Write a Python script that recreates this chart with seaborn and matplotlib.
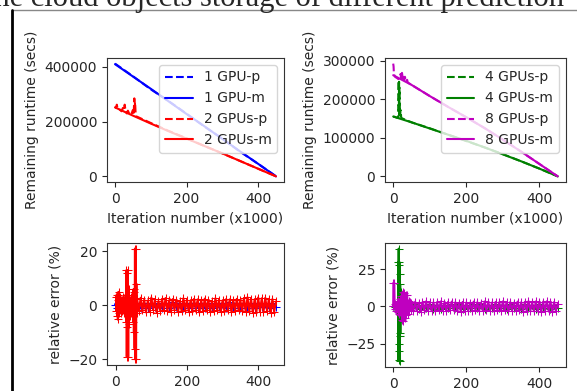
import numpy as np
import matplotlib
matplotlib.use('Agg')
import matplotlib.pyplot as plt
from matplotlib.lines import Line2D
import seaborn as sns

# ------------------------------------------------------------
# Remaining runtime (secs) vs iteration number (x1000)
# ------------------------------------------------------------
iters = [0, 50, 100, 150, 200, 250, 300, 350, 400, 450]

gpu1_m = [410000, 365000, 320000, 274000, 228000, 183000, 137000, 91000, 46000, 0]
gpu1_p = [412000, 366000, 318000, 275000, 229000, 182000, 138000, 90000, 46000, 500]

gpu2_m = [252000, 222000, 193000, 165000, 138000, 111000, 84000, 56000, 28000, 0]
gpu2_p_x = [0, 3, 5, 7, 10, 14, 18, 22, 25, 27, 30, 33, 36, 40, 45, 50, 52, 54,
            55, 56, 58, 60, 70, 100, 150, 200, 250, 300, 350, 400, 450]
gpu2_p = [255000, 250000, 262000, 248000, 245000, 243000, 238000, 250000, 241000,
          262000, 236000, 230000, 240000, 228000, 226000, 242000, 224000, 285000,
          250000, 272000, 220000, 219000, 213000, 195000, 166000, 139000, 111000,
          84000, 56000, 28000, 500]

gpu4_m = [155000, 140000, 124000, 108000, 92000, 75000, 57000, 39000, 20000, 0]
gpu4_p_x = [0, 5, 10, 14, 15, 15.5, 16, 16.5, 17, 17.5, 18, 19, 20, 22, 25, 30,
            50, 100, 150, 200, 250, 300, 350, 400, 450]
gpu4_p = [155000, 154000, 152000, 152000, 248000, 170000, 245000, 160000, 230000,
          175000, 168000, 158000, 172000, 152000, 150000, 148000, 140000, 124500,
          108000, 91500, 75000, 57500, 39000, 20000, 0]

gpu8_m = [262000, 237000, 208000, 180000, 153000, 125000, 95000, 64000, 32000, 0]
gpu8_p_x = [0, 1, 2, 3, 5, 8, 10, 14, 18, 20, 22, 24, 26, 28, 30, 32, 35, 38, 40,
            45, 50, 100, 150, 200, 250, 300, 350, 400, 450]
gpu8_p = [292000, 285000, 265000, 262000, 258000, 256000, 255000, 252000, 258000,
          265000, 252000, 268000, 255000, 262000, 250000, 258000, 246000, 250000,
          243000, 240000, 237000, 208000, 180000, 153000, 125000, 95000, 64000,
          32000, 0]

# ------------------------------------------------------------
# Relative error (%)
# ------------------------------------------------------------
band_x = list(np.arange(60, 455, 5))      # dense part, every 5k iterations
coarse_x = list(np.arange(40, 455, 10))   # coarser grid for hidden series

err1_early_x = [-2, 0, 3, 6, 10, 15, 20, 30]
err1_early = [0.2, 0.3, -0.8, 1.0, -0.9, 0.7, -1.1, 0.8]
err1_band = [1.0, -0.8, 0.9, -1.1, 0.7, -0.9, 1.0, -0.7, 0.8, -1.0,
             0.9, -0.8, 1.1, -0.7, 0.9, -1.0, 0.8, -0.9, 1.0, -0.8,
             0.9, -1.1, 0.8, -0.9, 1.0, -0.7, 0.9, -1.0, 1.1, -0.8,
             0.7, -1.0, 0.9, -0.8, 0.8, -1.1, 1.0, -0.7, 0.9, -0.9,
             0.8, -0.5]

err2_early_x = [1, 2, 3, 4, 5, 6, 7, 8, 9, 10, 12, 14, 16, 18, 20, 22, 24, 26,
                28, 29, 30, 31, 32, 33, 34, 35, 36, 37, 38, 39, 40, 42, 44, 46,
                48, 49, 50, 51, 52, 53, 54, 55, 56, 57, 58, 59]
err2_early = [3, -2, 4, -4, 2, -5, 4, -3, 5, -2, 3, -3, 2, -2, 3, -3, 2, -2,
              4, -6, 13, -19, 12, -8, 13, -19, 6, -7, 3, -4, 2, -3, 3, -2,
              4, -6, 6, -10, 5, -16, 21, -20, 21, -20, 8, -3]
err2_band = [2.5, -2.2, 2.8, -1.9, 2.1, -2.6, 1.8, -2.3, 2.9, -1.7,
             2.2, -2.8, 1.6, -2.0, 2.4, -1.8, 2.7, -2.1, 1.9, -2.5,
             2.3, -1.6, 2.0, -2.4, 1.7, -2.2, 2.6, -1.9, 2.1, -2.3,
             1.8, -2.1, 2.4, -1.7, 2.2, -2.6, 1.9, -2.0, 2.5, -1.8,
             2.0, -2.3, 1.7, -2.2, 2.6, -1.9, 2.1, -2.4, 1.8, -2.0,
             2.3, -1.8, 2.2, -2.5, 1.9, -2.1, 2.4, -1.7, 2.0, -2.2,
             2.7, -2.4, 3.0, -2.2, 2.5, -2.8, 2.2, -2.6, 2.9, -2.3,
             2.6, -2.5, 2.8, -2.1, 2.4, -2.7, 2.3, -2.4, 1.5]

err4_early_x = [0, 2, 5, 8, 10, 12, 13, 14, 14.5, 15, 15.5, 16, 16.5, 17, 17.5,
                18, 18.5, 19, 19.5, 20, 21, 22, 24, 26, 28, 30]
err4_early = [0, 0.5, -0.5, 0.8, -1, 2, -3, 30, -36, 39, -30, 28, -25, 30, -37,
              22, -20, 15, -18, 10, -8, 5, -4, 3, -2, 2]
err4_band = [1.5, -1.2, 1.4, -1.6, 1.1, -1.3, 1.5, -1.4, 1.2, -1.5,
             1.3, -1.1, 1.6, -1.2, 1.4, -1.5, 1.1, -1.3, 1.5, -1.2,
             1.4, -1.6, 1.2, -1.3, 1.5, -1.1, 1.3, -1.4, 1.6, -1.2,
             1.1, -1.5, 1.4, -1.3, 1.2, -1.6, 1.5, -1.1, 1.3, -1.4,
             1.2, -0.8]

err8_early_x = [0, 0.5, 3, 4, 5, 6, 8, 10, 12, 14, 16, 18, 20, 22, 24, 26, 28,
                30, 32, 34, 36, 38, 40, 42, 44, 46, 48, 50, 55]
err8_early = [0, 16, 16, 0, -2, 2, -3, 3, -4, 4, -5, 5, -6, 7, -9, 10, -10,
              9, -8, 8, -6, 8, -5, 4, -3, 3, -2.5, 2.5, -3]
err8_band = [3.2, -2.8, 2.5, -3.4, 2.9, -2.6, 3.5, -2.9, 2.7, -3.1,
             2.8, -3.3, 3.0, -2.5, 3.4, -2.8, 2.6, -3.2, 3.1, -2.7,
             3.3, -2.6, 2.9, -3.0, 2.5, -3.4, 3.1, -2.8, 2.7, -3.0,
             2.6, -3.1, 3.3, -2.7, 2.9, -3.2, 2.6, -2.9, 3.4, -2.6,
             3.0, -2.8, 2.7, -3.3, 3.1, -2.6, 2.9, -3.0, 3.5, -2.7,
             2.8, -3.2, 3.0, -2.9, 2.6, -3.1, 3.3, -2.7, 2.9, -3.4,
             3.1, -2.8, 3.6, -3.0, 2.7, -3.3, 3.4, -2.9, 3.0, -3.5,
             3.3, -3.0, 3.5, -2.8, 3.2, -3.4, 3.0, -3.1, 2.0]


def runtime_panel(ax, series):
    # series: (x, y, colour, linestyle, label)
    for x, y, color, ls, label in series:
        sns.lineplot(x=x, y=y, ax=ax, color=color, linestyle=ls, label=label,
                     estimator=None, sort=False, linewidth=1.5)
    ax.set_xlabel("Iteration number (x1000)")
    ax.set_ylabel("Remaining runtime (secs)")
    ax.legend(loc="upper right", fontsize=10)


def error_panel(ax, series):
    for x, y, color in series:
        sns.lineplot(x=x, y=y, ax=ax, color=color, marker="+", markersize=6,
                     markeredgecolor=color, estimator=None, sort=False,
                     linewidth=1.5)
    ax.set_xlabel("")
    ax.set_ylabel("relative error (%)")


sns.set_style("ticks")
plt.rcParams["font.family"] = ["DejaVu Sans"]
plt.rcParams["axes.edgecolor"] = "#333333"

fig = plt.figure(figsize=(5.77, 3.91), dpi=100)

ax_tl = fig.add_axes([0.1854, 0.5345, 0.3068, 0.3172])
ax_tr = fig.add_axes([0.6672, 0.5345, 0.3137, 0.3172])
ax_bl = fig.add_axes([0.1854, 0.0665, 0.3068, 0.3120])
ax_br = fig.add_axes([0.6672, 0.0614, 0.3137, 0.3171])

runtime_panel(ax_tl, [
    (iters, gpu1_p, "b", "--", "1 GPU-p"),
    (iters, gpu1_m, "b", "-", "1 GPU-m"),
    (gpu2_p_x, gpu2_p, "r", "--", "2 GPUs-p"),
    (iters, gpu2_m, "r", "-", "2 GPUs-m"),
])
ax_tl.set_yticks([0, 200000, 400000])

runtime_panel(ax_tr, [
    (gpu4_p_x, gpu4_p, "g", "--", "4 GPUs-p"),
    (iters, gpu4_m, "g", "-", "4 GPUs-m"),
    (gpu8_p_x, gpu8_p, "m", "--", "8 GPUs-p"),
    (iters, gpu8_m, "m", "-", "8 GPUs-m"),
])
ax_tr.set_yticks([0, 100000, 200000, 300000])

error_panel(ax_bl, [
    (err1_early_x + coarse_x, err1_early + err1_band, "b"),
    (err2_early_x + band_x, err2_early + err2_band, "r"),
])
ax_bl.set_yticks([-20, 0, 20])

error_panel(ax_br, [
    (err4_early_x + coarse_x, err4_early + err4_band, "g"),
    (err8_early_x + band_x, err8_early + err8_band, "m"),
])
ax_br.set_yticks([-25, 0, 25])

for ax in (ax_tl, ax_tr, ax_bl, ax_br):
    ax.set_xticks([0, 200, 400])

# page context around the figure: cut caption line and frame
fig.text(-0.024, 0.984, "the cloud objects storage of different prediction",
         family="Liberation Serif", fontsize=22, va="baseline", ha="left")
fig.add_artist(Line2D([0.021, 1.0], [0.974, 0.974], transform=fig.transFigure,
                      color="#888888", linewidth=1))
fig.add_artist(Line2D([0.021, 0.021], [0.0, 0.974], transform=fig.transFigure,
                      color="black", linewidth=2))

fig.savefig("out.png", dpi=100)
